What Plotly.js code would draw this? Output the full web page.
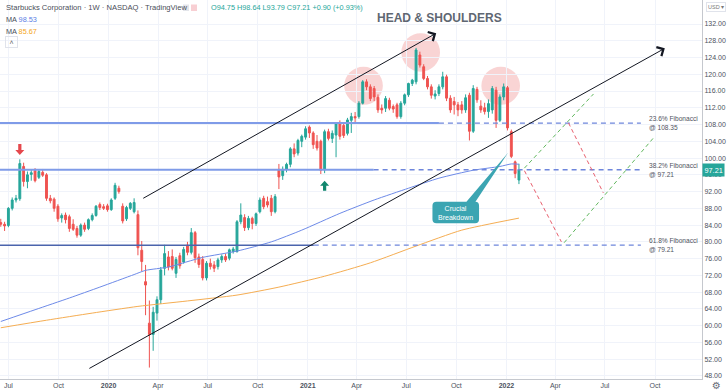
<!DOCTYPE html>
<html><head><meta charset="utf-8">
<script src="https://cdn.plot.ly/plotly-3.0.1.min.js"></script>
<style>html,body{margin:0;padding:0;background:#fff}#chart{width:728px;height:391px}</style>
</head><body><div id="chart"></div>
<script>
// ---- weekly candles, SBUX (1W), first week 2019-06-17 ----
const firstWeek = '2019-06-17';
const open  = [84.6,84.2,83.9,88.0,90.0,90.3,98.0,94.4,96.1,97.0,95.4,96.6,96.0,90.4,90.2,88.5,85.7,86.4,86.0,84.2,83.2,81.6,84.0,83.2,85.3,86.3,88.9,88.4,88.6,87.7,90.4,92.8,88.5,85.5,88.0,87.2,86.5,78.0,70.5,60.6,57.9,63.0,66.2,73.7,76.4,76.5,72.5,76.7,75.2,79.2,77.5,82.2,76.4,75.8,71.4,74.9,74.5,74.1,75.7,76.5,76.1,77.7,77.7,84.8,85.8,83.4,85.6,84.4,87.2,90.4,89.6,90.4,87.2,97.3,95.8,97.3,98.5,102.2,101.2,104.0,105.0,107.4,106.0,104.0,104.0,97.2,106.3,104.7,105.5,108.4,107.8,105.9,109.0,109.9,109.9,113.1,118.2,117.0,116.6,114.5,111.9,111.9,113.8,112.3,112.7,109.9,113.1,115.1,117.8,118.2,124.6,121.8,119.0,117.0,114.8,115.4,117.0,119.4,114.3,113.5,112.7,112.7,111.5,115.0,106.4,116.4,112.4,112.0,111.1,111.5,116.2,109.0,114.6,116.8,106.3,99.1,94.75];
const high  = [85.5,84.8,88.3,90.6,91.2,99.7,98.9,96.8,97.2,97.6,97.2,97.4,96.4,91.2,90.6,89.0,86.8,87.0,86.5,85.4,83.8,84.4,84.6,85.6,86.8,88.8,89.4,89.0,89.1,90.4,94.1,93.4,89.2,88.6,89.5,90.4,87.5,80.2,74.5,66.0,64.5,67.0,74.0,79.3,77.8,78.2,76.4,77.4,78.8,80.0,83.3,82.6,77.2,76.6,75.4,76.0,75.4,76.2,77.0,77.2,78.4,78.8,85.2,89.2,86.6,86.2,86.0,87.0,90.6,91.0,90.8,91.2,91.4,98.6,98.0,98.9,102.6,103.5,104.6,105.6,107.6,107.8,106.4,105.5,104.4,106.8,107.0,106.6,108.6,109.0,108.6,109.6,110.8,111.0,113.6,118.6,118.8,117.6,117.2,115.2,112.8,114.8,114.4,112.8,113.2,113.6,115.4,118.0,118.9,126.3,125.4,122.4,119.6,117.6,116.2,117.6,120.6,119.9,115.0,114.6,113.4,113.6,115.2,115.6,117.4,117.0,113.8,113.2,114.0,117.2,117.0,115.2,117.8,117.2,106.8,99.4,98.64];
const low   = [83.6,82.6,83.5,87.5,89.4,89.8,93.2,92.8,94.6,94.2,95.0,95.5,89.8,89.2,87.2,84.8,84.6,84.4,82.4,82.6,81.0,81.2,82.4,82.8,84.9,86.0,87.6,87.6,87.2,87.4,90.0,91.5,84.4,85.0,87.6,86.8,76.8,73.0,62.5,50.0,54.0,61.2,65.2,72.0,73.2,73.2,71.4,73.6,74.8,76.8,77.0,75.0,73.8,70.8,70.8,73.4,72.8,73.4,75.0,75.2,75.6,77.2,77.4,84.2,82.6,82.8,83.0,83.8,86.8,87.8,88.2,86.2,86.8,92.6,94.8,96.6,97.8,100.2,100.6,102.6,104.4,104.8,102.2,101.8,96.2,96.4,104.2,103.6,100.2,104.4,104.8,105.4,106.0,108.6,109.4,112.8,116.2,113.6,113.6,110.8,110.6,111.0,111.4,110.8,109.4,109.4,112.6,114.6,117.2,117.6,121.6,118.6,116.4,114.2,114.0,114.8,116.4,113.6,110.8,110.4,110.0,110.6,110.8,104.2,106.0,113.2,110.8,110.4,109.6,110.6,107.2,108.6,113.8,106.6,100.0,95.2,93.79];
const close = [84.2,83.8,88.0,90.0,90.4,98.7,94.4,96.0,96.5,94.6,96.8,95.9,90.4,89.8,88.0,85.5,86.3,85.3,83.2,83.0,81.6,84.0,83.0,85.3,86.3,88.5,88.2,88.0,87.7,90.0,93.5,92.0,85.0,88.2,89.2,89.4,78.6,75.3,69.7,57.9,63.2,66.2,73.3,77.2,74.0,73.7,75.8,74.3,78.2,77.5,82.2,76.2,74.6,71.4,74.9,74.1,73.7,75.7,76.5,75.7,78.1,78.3,84.8,86.4,83.4,85.6,84.4,86.7,90.0,88.4,88.8,87.2,90.8,95.5,97.3,98.5,102.2,101.0,104.2,105.2,107.0,106.0,103.2,102.4,97.1,106.3,104.7,105.9,108.3,105.2,105.4,109.1,109.9,109.6,113.1,118.2,117.0,114.2,114.6,111.5,111.5,114.2,111.9,111.7,109.9,113.1,115.1,117.8,118.6,125.8,122.2,119.0,117.0,115.0,115.3,117.0,119.4,114.3,111.5,112.7,111.5,111.5,114.4,106.4,116.6,113.9,111.5,111.1,113.0,116.6,109.0,114.6,117.0,107.2,100.4,96.31,97.21];

// ---- moving averages ----
const maFastDates = ['2019-06-17','2019-08-19','2019-10-21','2019-12-16','2020-02-17','2020-03-09','2020-04-20','2020-06-22','2020-08-24','2020-10-26','2020-12-21','2021-03-01','2021-05-03','2021-07-05','2021-08-30','2021-11-01','2021-12-20','2022-01-10','2022-01-24'];
const maFast = [61.0,63.8,66.6,69.2,72.2,73.2,74.0,76.3,77.8,80.0,82.8,86.8,90.0,92.8,95.2,97.1,98.0,98.6,98.53];
const maSlowDates = ['2019-06-17','2019-09-09','2019-12-02','2020-02-24','2020-05-25','2020-08-24','2020-11-09','2021-02-01','2021-04-26','2021-07-19','2021-10-11','2022-01-24'];
const maSlow = [59.5,61.3,63.0,64.6,65.9,67.3,69.2,71.8,75.0,79.0,82.8,85.67];

// ---- axes ----
const xTickVals = ['2019-07-01','2019-10-01','2020-01-01','2020-04-01','2020-07-01','2020-10-01','2021-01-01','2021-04-01','2021-07-01','2021-10-01','2022-01-01','2022-04-01','2022-07-01','2022-10-01'];
const xTickText = ['Jul','Oct','<b>2020</b>','Apr','Jul','Oct','<b>2021</b>','Apr','Jul','Oct','<b>2022</b>','Apr','Jul','Oct'];
const yTickVals = [48,52,56,60,64,68,72,76,80,84,88,92,96,100,104,108,112,116,120,124,128,132];

// ---- Fibonacci levels ----
const fibLevels = [108.35, 97.21, 79.21];
const fibNames  = ['23.6% Fibonacci','38.2% Fibonacci','61.8% Fibonacci'];

const dates = [];
const t0 = Date.parse(firstWeek + 'T00:00:00Z');
for (let k = 0; k < open.length; k++) dates.push(new Date(t0 + k*7*864e5).toISOString().slice(0,10));

const PX = x => x/702, PY = y => 1 - y/379;
const FONT = 'Liberation Sans, Arial, sans-serif';
const X_START = '2019-06-15 14:00', X_END = '2022-12-26 08:00';

const traces = [
  {type:'candlestick', x:dates, open:open, high:high, low:low, close:close,
   increasing:{line:{color:'#26a69a',width:1}, fillcolor:'#26a69a'},
   decreasing:{line:{color:'#ef5350',width:1}, fillcolor:'#ef5350'},
   whiskerwidth:0, hoverinfo:'skip'},
  {type:'scatter', mode:'lines', x:maSlowDates, y:maSlow, line:{color:'#f5ad52', width:1, shape:'spline', smoothing:0.6}, hoverinfo:'skip'},
  {type:'scatter', mode:'lines', x:maFastDates, y:maFast, line:{color:'#6d8ae8', width:1, shape:'spline', smoothing:0.6}, hoverinfo:'skip'}
];

const pink = 'rgba(236,112,112,0.30)';
const solidEnds = ['2021-08-30','2021-05-02','2021-01-12'];
const solidColors = ['#7f9be8','#7f9be8','#4b64ad'];
const solidWidths = [2, 2, 1.4];
const shapes = [
  {type:'circle', xref:'x', yref:'y', x0:'2021-03-09', x1:'2021-05-19', y0:112.7, y1:121.8, fillcolor:pink, line:{width:0}, layer:'below'},
  {type:'circle', xref:'x', yref:'y', x0:'2021-06-22', x1:'2021-09-01', y0:120.6, y1:129.8, fillcolor:pink, line:{width:0}, layer:'below'},
  {type:'circle', xref:'x', yref:'y', x0:'2021-11-16', x1:'2022-01-26', y0:112.7, y1:121.8, fillcolor:pink, line:{width:0}, layer:'below'}
];
fibLevels.forEach((v,k) => {
  shapes.push({type:'line', xref:'x', yref:'y', x0:X_START, x1:solidEnds[k], y0:v, y1:v, line:{color:solidColors[k], width:solidWidths[k]}});
  shapes.push({type:'line', xref:'x', yref:'y', x0:solidEnds[k], x1:'2022-09-05', y0:v, y1:v, line:{color:'#6e86dc', width:1.3, dash:'5px,4px'}});
});
// projected paths
const G = '#62b85f', R = '#e8606e';
[
  ['2022-02-03',97.6,'2022-06-10',115.3,G],
  ['2022-04-25',108.4,'2022-06-28',91.7,R],
  ['2022-04-17',79.8,'2022-09-30',105.1,G],
  ['2022-02-03',97.0,'2022-04-12',80.0,R]
].forEach(s => shapes.push({type:'line', xref:'x', yref:'y', x0:s[0], y0:s[1], x1:s[2], y1:s[3], line:{color:s[4], width:1, dash:'4px,3px'}}));
// block arrows
shapes.push({type:'path', xref:'x', yref:'y', xsizemode:'pixel', ysizemode:'pixel', xanchor:'2019-07-22', yanchor:100.74,
  path:'M0,0 L-4.5,5 L-1.6,5 L-1.6,11 L1.6,11 L1.6,5 L4.5,5 Z', fillcolor:'#e5484d', line:{width:0}});
shapes.push({type:'path', xref:'x', yref:'y', xsizemode:'pixel', ysizemode:'pixel', xanchor:'2021-02-01', yanchor:94.6,
  path:'M0,0 L-4.5,-5 L-1.6,-5 L-1.6,-10 L1.6,-10 L1.6,-5 L4.5,-5 Z', fillcolor:'#11876d', line:{width:0}});
// callout
shapes.push({type:'path', xref:'x', yref:'y', xsizemode:'pixel', ysizemode:'pixel', xanchor:'2022-01-04', yanchor:101.28,
  path:'M-71.6,-49 L-41.6,-49 L0,0 L-32.6,-49 Q-29,-49 -29,-53 L-29,-66.6 Q-29,-70.6 -33,-70.6 L-71.6,-70.6 Q-75.6,-70.6 -75.6,-66.6 L-75.6,-53 Q-75.6,-49 -71.6,-49 Z',
  fillcolor:'#3ba5b2', line:{width:0}});
// header buttons
shapes.push({type:'rect', xref:'paper', yref:'paper', x0:PX(183), x1:PX(189), y0:PY(11), y1:PY(4.5), fillcolor:'#e3e5ea', line:{width:0}});
shapes.push({type:'rect', xref:'paper', yref:'paper', x0:PX(191), x1:PX(197), y0:PY(11), y1:PY(4.5), fillcolor:'#f8cfd3', line:{width:0}});

const P = (x, y, text, font, extra) => Object.assign({xref:'paper', yref:'paper', x:PX(x), y:PY(y), xanchor:'left', yanchor:'middle', text:text, showarrow:false, font:font}, extra || {});
const annotations = [
  P(439, 18, '<b>HEAD &amp; SHOULDERS</b>', {family:FONT, size:12, color:'#5f6772'}, {xanchor:'center'}),
  P(4, 8, 'Starbucks Corporation · 1W · NASDAQ · TradingView', {family:FONT, size:7.6, color:'#4a4e59'}),
  P(209, 8, 'O94.75 H98.64 L93.79 C97.21 +0.90 (+0.93%)', {family:FONT, size:7.3, color:'#26a69a'}),
  P(4, 19.5, 'MA <span style="color:#5b7ee5">98.53</span>', {family:FONT, size:7.3, color:'#4a4e59'}),
  P(4, 31, 'MA <span style="color:#f5a623">85.67</span>', {family:FONT, size:7.3, color:'#4a4e59'}),
  P(11, 42.5, '˄', {family:FONT, size:7, color:'#666'}, {xanchor:'center', bordercolor:'#e0e3eb', borderwidth:1, borderpad:1, width:9, height:8}),
  P(716, 7, 'USD ▾', {family:FONT, size:5.5, color:'#777'}, {xanchor:'center', bordercolor:'#e0e3eb', borderwidth:1, borderpad:1}),
  P(716, 385.5, '⚙', {family:'DejaVu Sans', size:10, color:'#6a6d78'}, {xanchor:'center'}),
  {xref:'paper', yref:'y', x:1, y:97.21, xanchor:'left', yanchor:'middle', text:'97.21', showarrow:false, font:{family:FONT, size:7.3, color:'#fff'}, bgcolor:'#26a69a', borderpad:1.5},
  {xref:'x', yref:'y', x:'2022-01-04', y:101.28, xshift:-52.3, yshift:-59.8, xanchor:'center', yanchor:'middle', text:'Crucial<br>Breakdown', showarrow:false, font:{family:FONT, size:7, color:'#fff'}},
  {xref:'x', yref:'y', axref:'x', ayref:'y', x:'2021-08-25', y:129.8, ax:'2020-03-02', ay:90.2, text:'', showarrow:true, arrowhead:4, arrowsize:2, arrowwidth:1, arrowcolor:'#131722'},
  {xref:'x', yref:'y', axref:'x', ayref:'y', x:'2022-10-19', y:126.2, ax:'2019-11-24', ay:49.6, text:'', showarrow:true, arrowhead:4, arrowsize:2, arrowwidth:1, arrowcolor:'#131722'}
];
fibLevels.forEach((v,k) => annotations.push({xref:'x', yref:'y', x:'2022-09-16', y:v, xanchor:'left', yanchor:'middle', align:'left',
  text: fibNames[k] + '<br>@ ' + v.toFixed(2), showarrow:false, font:{family:FONT, size:6.6, color:'#50535e'}}));

const layout = {
  width:728, height:391, margin:{l:0, r:26, t:0, b:12},
  paper_bgcolor:'#fff', plot_bgcolor:'#fff', showlegend:false, dragmode:false,
  xaxis:{type:'date', range:[X_START, X_END], tickvals:xTickVals, ticktext:xTickText, tickfont:{family:FONT, size:7, color:'#4c525e'},
    showgrid:true, gridcolor:'#f0f3fa', showline:true, linecolor:'#c5c8ce', linewidth:1, ticks:'', zeroline:false, rangeslider:{visible:false}, fixedrange:true},
  yaxis:{side:'right', range:[47.27, 137.73], tickvals:yTickVals, tickformat:'.2f', tickfont:{family:FONT, size:7, color:'#4c525e'},
    showgrid:true, gridcolor:'#f0f3fa', showline:true, linecolor:'#c5c8ce', linewidth:1, ticks:'', zeroline:false, fixedrange:true},
  shapes:shapes, annotations:annotations
};
Plotly.newPlot('chart', traces, layout, {displayModeBar:false, staticPlot:true});
</script></body></html>
